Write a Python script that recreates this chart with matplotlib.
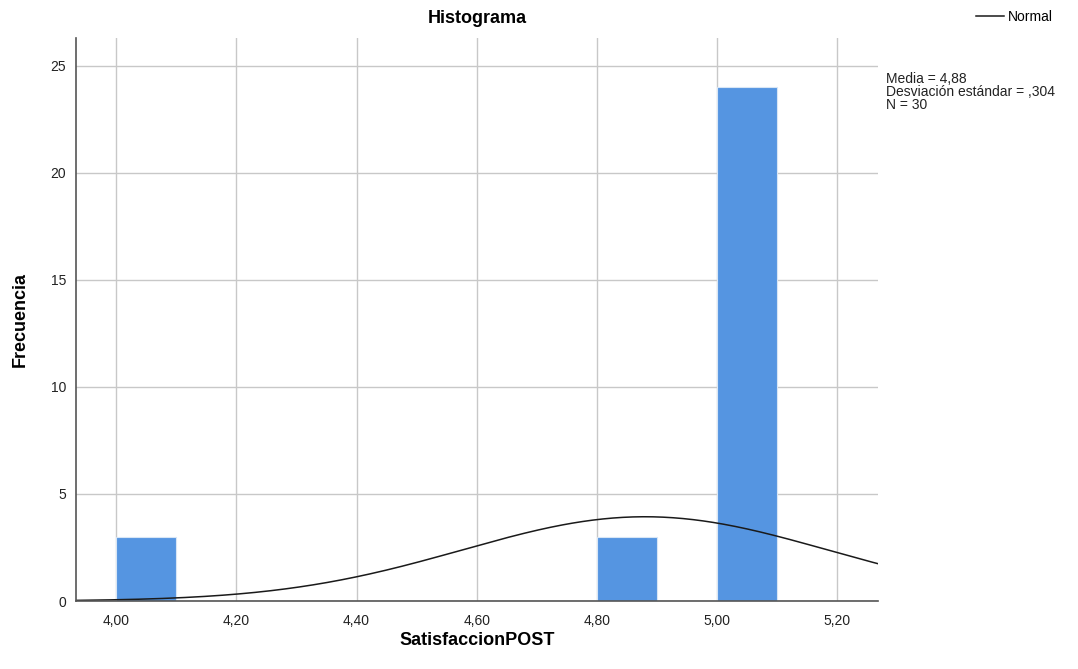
import numpy as np
import matplotlib
matplotlib.use('Agg')
import matplotlib.pyplot as plt

plt.rcParams['font.family'] = ['Liberation Sans', 'DejaVu Sans']

# Histogram data (bin left edges, width 0.1)
bin_lefts = [4.00, 4.80, 5.00]
counts = [3, 3, 24]
bin_width = 0.10
mean = 4.88
std = 0.304
n = 30
xticks = [4.00, 4.20, 4.40, 4.60, 4.80, 5.00, 5.20]
yticks = [0, 5, 10, 15, 20, 25]
stats_lines = ['Media = 4,88', 'Desviación estándar = ,304', 'N = 30']

fig = plt.figure(figsize=(10.78, 6.69), dpi=100)
ax = fig.add_axes([0.0705, 0.1016, 0.744, 0.8416])

ax.bar(bin_lefts, counts, width=bin_width, align='edge',
       color='#5595e1', edgecolor='#d8e6f5', linewidth=0.8, zorder=3)

# fitted normal curve scaled to counts
xs = np.linspace(3.933, 5.268, 400)
ys = n * bin_width / (std * np.sqrt(2 * np.pi)) * np.exp(-0.5 * ((xs - mean) / std) ** 2)
line, = ax.plot(xs, ys, color='#1a1a1a', linewidth=1.1, zorder=4)

ax.set_xlim(3.933, 5.268)
ax.set_ylim(0, 26.3)
ax.set_xticks(xticks)
ax.set_xticklabels([('%.2f' % v).replace('.', ',') for v in xticks])
ax.set_yticks(yticks)
ax.tick_params(axis='x', length=0, labelsize=10, colors='#222222', pad=9)
ax.tick_params(axis='y', length=0, labelsize=10, colors='#222222', pad=7)
ax.grid(True, color='#c8c8c8', linewidth=1.0, zorder=0)
ax.set_axisbelow(True)
for s in ['top', 'right']:
    ax.spines[s].set_visible(False)
for s in ['left', 'bottom']:
    ax.spines[s].set_color('#555555')
    ax.spines[s].set_linewidth(1.2)
    ax.spines[s].set_zorder(5)

ax.set_title('Histograma', fontsize=13, fontweight='bold', pad=11)
ax.set_xlabel('SatisfaccionPOST', fontsize=13, fontweight='bold', labelpad=3)
ax.set_ylabel('Frecuencia', fontsize=13, fontweight='bold', labelpad=16)

fig.legend([line], ['Normal'], loc='upper right', bbox_to_anchor=(0.9886, 1.004),
           frameon=False, fontsize=10, handlelength=2.0, handletextpad=0.3)

# statistics block
fig.text(0.822, 0.892, '\n'.join(stats_lines), fontsize=10, va='top',
         ha='left', linespacing=0.9, color='#222222')

fig.savefig('out.png', dpi=100)
